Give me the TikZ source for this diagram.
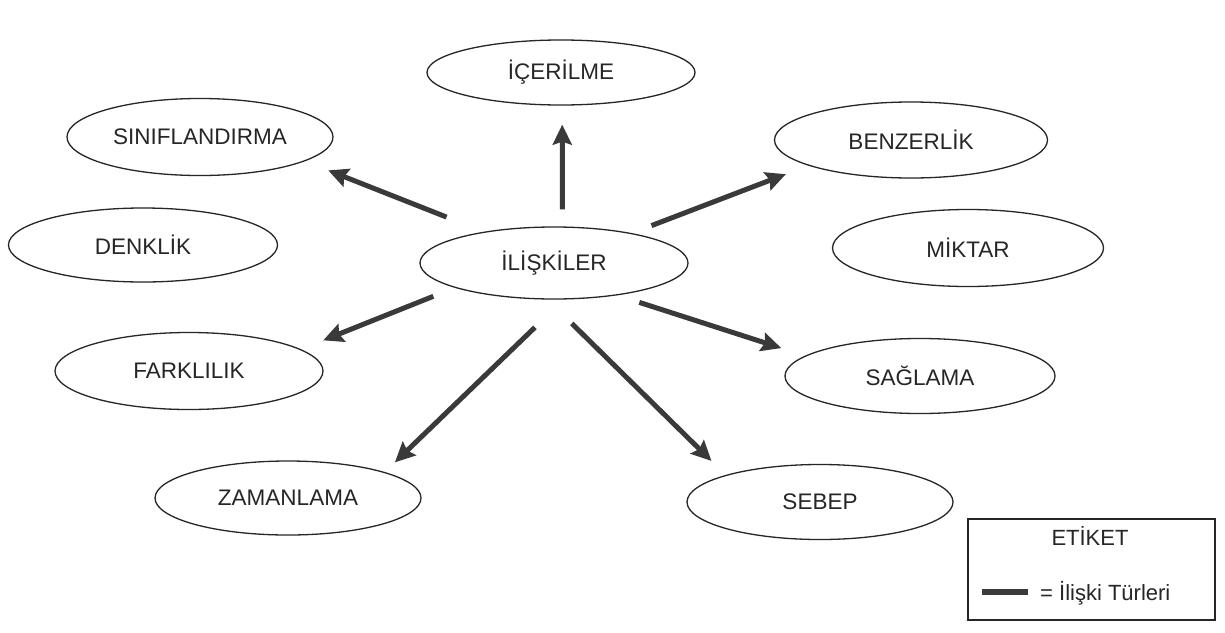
\documentclass[tikz,border=0pt]{standalone}
\usepackage{fontspec}
\setmainfont{Liberation Sans}
\usetikzlibrary{arrows.meta,shapes.geometric}
\definecolor{ink}{HTML}{262626}
\definecolor{shaft}{HTML}{3A3A3A}
\begin{document}
\begin{tikzpicture}[x=1pt,y=-1pt,
  concept/.style={ellipse, draw=ink, line width=1.3pt, inner sep=0pt,
    minimum height=75pt, text=ink, font=\fontsize{22.5}{26}\selectfont},
  arr/.style={draw=shaft, line width=5pt,
    -{Stealth[length=20pt,width=19pt,inset=3pt]}},
  legtext/.style={text=ink, inner sep=0pt, font=\fontsize{22}{26}\selectfont}]
  \useasboundingbox[fill=white] (0,0) rectangle (1225,632);

  % concept ellipses
  \node[concept, minimum width=268pt, minimum height=72pt] (rel) at (554,263) {İLİŞKİLER};
  \node[concept, minimum width=268pt, minimum height=65pt] (icer) at (561,72.5) {İÇERİLME};
  \node[concept, minimum width=266pt, minimum height=77pt] (sinif) at (200,137) {SINIFLANDIRMA};
  \node[concept, minimum width=269pt, minimum height=74pt] (denk) at (143,245) {DENKLİK};
  \node[concept, minimum width=273pt, minimum height=76pt] (benz) at (911,140) {BENZERLİK};
  \node[concept, minimum width=271pt, minimum height=77pt] (mikt) at (968,248) {MİKTAR};
  \node[concept, minimum width=268pt, minimum height=77pt] (fark) at (189,371) {FARKLILIK};
  \node[concept, minimum width=266pt, minimum height=74pt] (zaman) at (288,498) {ZAMANLAMA};
  \node[concept, minimum width=270pt, minimum height=75pt] (sagl) at (920,376) {SAĞLAMA};
  \node[concept, minimum width=266pt, minimum height=75pt] (sebep) at (820,502) {SEBEP};

  % relation arrows
  \draw[arr, shorten <=17pt, shorten >=19pt] (rel.77.4) -- (icer.-88.3);
  \draw[arr, shorten <=40pt, shorten >=25pt] (rel.156.7) -- (sinif.-13.9);
  \draw[arr, shorten <=21pt, shorten >=24pt] (rel.21.2) -- (benz.194.2);
  \draw[arr, shorten <=23pt, shorten >=24pt] (rel.194.3) -- (fark.11.7);
  \draw[arr, shorten <=40pt, shorten >=14pt] (rel.285.8) -- (zaman.15.4);
  \draw[arr, shorten <=23pt, shorten >=25pt] (rel.-27.7) -- (sagl.170.1);
  \draw[arr, shorten <=34pt, shorten >=20pt] (rel.260.4) -- (sebep.164.3);

  % legend
  \node[draw=ink, line width=1.3pt, minimum width=247pt, minimum height=101pt,
        inner sep=0pt] (legend) at (1091.5,569.5) {};
  \node[legtext, anchor=base] (legtitle) at (1090,545) {ETİKET};
  \coordinate (sampleA) at (982,592);
  \coordinate (sampleB) at (1028,592);
  \draw[draw=shaft, line width=6pt] (sampleA) -- (sampleB);
  \node[legtext, anchor=base west] (legkey) at (1040,600) {= İlişki Türleri};
\end{tikzpicture}
\end{document}
